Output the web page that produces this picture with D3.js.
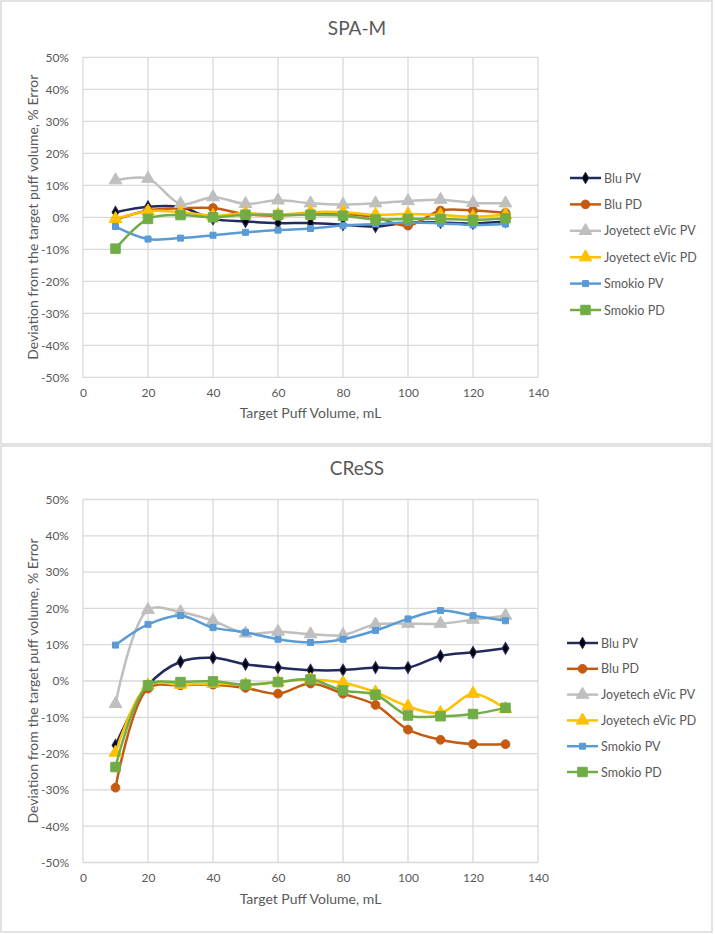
<!DOCTYPE html>
<html><head><meta charset="utf-8">
<script src="https://cdn.jsdelivr.net/npm/d3@7"></script>
<style>body{margin:0;background:#fff;}svg{display:block;font-family:Lato,"Open Sans",sans-serif;}</style>
</head><body>
<svg id="c" width="715" height="934"></svg>
<script>
const xValues = [10,20,30,40,50,60,70,80,90,100,110,120,130];
const xTicks = [0,20,40,60,80,100,120,140];
const yTicks = [-0.5,-0.4,-0.3,-0.2,-0.1,0,0.1,0.2,0.3,0.4,0.5];

const spamNames = ["Blu PV","Blu PD","Joyetect eVic PV","Joyetect eVic PD","Smokio PV","Smokio PD"];
const spamBluPV   = [1.6,3.3,3.2,-0.5,-1.3,-1.8,-1.8,-2.3,-2.9,-1.6,-1.6,-1.9,-1.3];
const spamBluPD   = [-0.8,2.1,2.8,2.9,1.0,0.5,1.0,1.0,0.0,-2.6,2.1,2.1,1.4];
const spamJoyPV   = [11.6,12.1,4.2,6.3,4.2,5.3,4.4,4.0,4.4,5.1,5.5,4.5,4.4];
const spamJoyPD   = [-0.5,1.9,1.6,0.5,1.3,0.8,1.6,1.6,0.8,1.0,0.7,0.2,0.8];
const spamSmoPV   = [-2.9,-6.8,-6.5,-5.6,-4.7,-4.0,-3.5,-2.6,-2.1,-1.6,-1.9,-2.4,-2.1];
const spamSmoPD   = [-9.8,-0.5,0.7,0.0,0.8,0.7,0.8,0.5,-0.7,-0.5,-0.5,-0.8,-0.3];

const cressNames = ["Blu PV","Blu PD","Joyetech eVic PV","Joyetech eVic PD","Smokio PV","Smokio PD"];
const cressBluPV  = [-17.7,-1.2,5.3,6.4,4.6,3.7,3.0,3.0,3.7,3.7,6.9,7.9,9.0];
const cressBluPD  = [-29.4,-2.1,-1.2,-1.0,-1.9,-3.5,-0.7,-3.5,-6.6,-13.4,-16.2,-17.4,-17.4];
const cressJoyPV  = [-6.3,19.6,19.0,16.6,13.1,13.6,12.9,12.7,15.6,15.8,15.8,16.9,18.0];
const cressJoyPD  = [-19.7,-1.2,-1.0,-0.7,-1.0,-0.3,0.4,-0.5,-3.1,-7.0,-8.8,-3.5,-7.7];
const cressSmoPV  = [9.9,15.6,18.0,14.7,13.4,11.5,10.6,11.5,13.9,17.1,19.4,18.0,16.6];
const cressSmoPD  = [-23.7,-1.2,-0.3,-0.1,-1.0,-0.3,0.4,-2.6,-3.8,-9.5,-9.7,-9.1,-7.4];

const colors = ["#232A5E","#C55A11","#BFBFBF","#FFC000","#5B9BD5","#70AD47"];
const markers = ["diamond","circle","triangle","triangle","smallsquare","square"];

const svg = d3.select("#c");
const grid = "#D9D9D9", txt = "#595959";
const pct = d => d3.format(".0%")(d).replace("\u2212","-");

// panels
svg.append("rect").attr("x",1).attr("y",1).attr("width",711).attr("height",443).attr("fill","#fff").attr("stroke",grid).attr("stroke-width",1.5);
svg.append("rect").attr("x",1).attr("y",446).attr("width",711).attr("height",486).attr("fill","#fff").attr("stroke",grid).attr("stroke-width",1.5);

function markerPath(type){
  switch(type){
    case "diamond": return d3.symbol(d3.symbolDiamond, 38)();
    case "circle": return d3.symbol(d3.symbolCircle, 60)();
    case "triangle": return d3.symbol(d3.symbolTriangle, 70)();
    case "smallsquare": return d3.symbol(d3.symbolSquare, 36)();
    case "square": return d3.symbol(d3.symbolSquare, 90)();
  }
}

function drawPanel(cfg){
  const x = d3.scaleLinear().domain([0,140]).range([83,538]);
  const y = d3.scaleLinear().domain([-0.5,0.5]).range([cfg.y1,cfg.y0]);
  const g = svg.append("g");
  g.append("text").attr("x",357).attr("y",cfg.titleY).attr("text-anchor","middle")
    .attr("font-size",19).attr("fill",txt).text(cfg.title);
  g.selectAll(".hg").data(yTicks).join("line")
    .attr("x1",x(0)).attr("x2",x(140)).attr("y1",d=>y(d)).attr("y2",d=>y(d))
    .attr("stroke",grid).attr("stroke-width",1.3);
  g.selectAll(".vg").data(xTicks).join("line")
    .attr("y1",y(0.5)).attr("y2",y(-0.5)).attr("x1",d=>x(d)).attr("x2",d=>x(d))
    .attr("stroke",grid).attr("stroke-width",1.3);
  const ya = g.append("g").attr("transform",`translate(${x(0)},0)`)
    .call(d3.axisLeft(y).tickValues(yTicks).tickFormat(pct).tickSize(0).tickPadding(14));
  ya.select(".domain").remove();
  ya.selectAll("text").attr("font-size",12).attr("fill",txt).attr("font-family","Lato, sans-serif");
  const xa = g.append("g").attr("transform",`translate(0,${y(-0.5)})`)
    .call(d3.axisBottom(x).tickValues(xTicks).tickSize(0).tickPadding(cfg.xPad));
  xa.select(".domain").remove();
  xa.selectAll("text").attr("font-size",12).attr("fill",txt).attr("font-family","Lato, sans-serif");
  g.append("text").attr("x",(x(0)+x(140))/2).attr("y",cfg.xTitleY).attr("text-anchor","middle")
    .attr("font-size",14).attr("fill",txt).text("Target Puff Volume, mL");
  g.append("text").attr("transform",`translate(38,${(y(0.5)+y(-0.5))/2}) rotate(-90)`)
    .attr("text-anchor","middle").attr("font-size",14).attr("fill",txt)
    .text("Deviation from the target puff volume, % Error");
  const line = d3.line().x(d=>x(d[0])).y(d=>y(d[1]/100)).curve(d3.curveCatmullRom.alpha(0.5));
  cfg.series.forEach((s,i)=>{
    const pts = xValues.map((v,j)=>[v,s[j]]);
    g.append("path").attr("d",line(pts)).attr("fill","none").attr("stroke",colors[i]).attr("stroke-width",2.5);
    g.selectAll(null).data(pts).join("path")
      .attr("d",markerPath(markers[i]))
      .attr("transform",d=>`translate(${x(d[0])},${y(d[1]/100)})`)
      .attr("fill",i===0?"#000":colors[i]).attr("stroke",colors[i]).attr("stroke-width",i===0?1.2:1);
  });
  cfg.names.forEach((n,i)=>{
    const ly = cfg.legY + i*cfg.legStep;
    const lg = g.append("g");
    lg.append("line").attr("x1",cfg.legX).attr("x2",cfg.legX+31).attr("y1",ly).attr("y2",ly)
      .attr("stroke",colors[i]).attr("stroke-width",2.5);
    lg.append("path").attr("d",markerPath(markers[i])).attr("transform",`translate(${cfg.legX+15.5},${ly})`)
      .attr("fill",i===0?"#000":colors[i]).attr("stroke",colors[i]).attr("stroke-width",1);
    lg.append("text").attr("x",cfg.legX+34).attr("y",ly+4.5).attr("font-size",12.5).attr("fill",txt).text(n);
  });
}

drawPanel({title:"SPA-M", titleY:35, y0:57.3, y1:377.3, xPad:11, xTitleY:418,
  series:[spamBluPV,spamBluPD,spamJoyPV,spamJoyPD,spamSmoPV,spamSmoPD], names:spamNames,
  legX:570, legY:178, legStep:26.4});
drawPanel({title:"CReSS", titleY:475, y0:499.5, y1:862.5, xPad:11, xTitleY:904,
  series:[cressBluPV,cressBluPD,cressJoyPV,cressJoyPD,cressSmoPV,cressSmoPD], names:cressNames,
  legX:567, legY:643, legStep:25.8});
</script>
</body></html>
